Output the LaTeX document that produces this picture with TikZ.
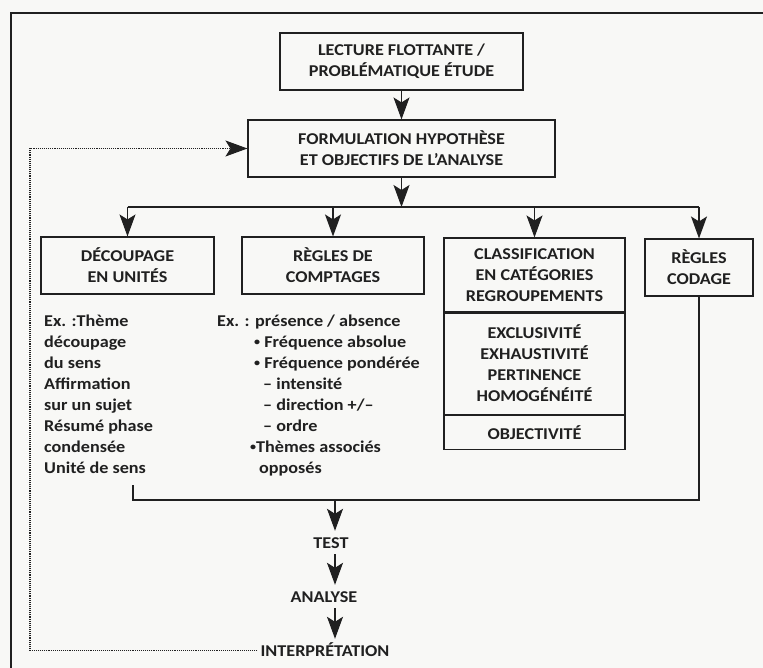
\documentclass[tikz,border=0pt]{standalone}
\usepackage{fontspec}
\setmainfont{Carlito}[FakeStretch=1.1]
\usetikzlibrary{arrows.meta}
\definecolor{bg}{RGB}{248,248,246}
\definecolor{ink}{RGB}{32,32,32}
\newcommand\lblfont{\fontsize{16.5}{21}\selectfont\bfseries}
\newcommand\smbul{\raisebox{0.12em}{\fontsize{11}{11}\selectfont•}}
\begin{document}
\begin{tikzpicture}[x=1pt,y=-1pt,
  box/.style={draw=ink, line width=1.1pt, align=center, inner sep=0pt, font=\lblfont, text=ink},
  txt/.style={align=left, inner sep=0pt, font=\lblfont, text=ink},
  lab/.style={inner sep=3pt, text height=11pt, text depth=0pt, font=\lblfont, text=ink},
  conn/.style={draw=ink, line width=1.2pt},
  arr/.style={draw=ink, line width=1.2pt, -{Stealth[length=22pt,width=16pt,inset=5pt]}},
  dots/.style={draw=ink, line width=1.2pt, dash pattern=on 1.1pt off 1pt}]
\useasboundingbox[fill=bg] (0,0) rectangle (763,668);
\draw[draw=ink, line width=1.4pt] (763,13) -- (11,13) -- (11,668);

\node[box, minimum width=243pt, minimum height=57pt] (top) at (401.5,61.5) {LECTURE FLOTTANTE /\\PROBLÉMATIQUE ÉTUDE};
\node[box, minimum width=307pt, minimum height=57pt] (form) at (401.5,148.5) {FORMULATION HYPOTHÈSE\\ET OBJECTIFS DE L’ANALYSE};

\node[box, minimum width=173pt, minimum height=57pt] (dec) at (127.5,265.5) {DÉCOUPAGE\\EN UNITÉS};
\node[box, minimum width=182pt, minimum height=57pt] (comp) at (333,265.5) {RÈGLES DE\\COMPTAGES};
\node[box, minimum width=181pt, minimum height=74pt] (cl1) at (534.5,275) {CLASSIFICATION\\EN CATÉGORIES\\REGROUPEMENTS};
\node[box, minimum width=181pt, minimum height=101pt, anchor=north] (cl2) at (cl1.south) {EXCLUSIVITÉ\\EXHAUSTIVITÉ\\PERTINENCE\\HOMOGÉNÉITÉ};
\node[box, minimum width=181pt, minimum height=34pt, anchor=north] (cl3) at (cl2.south) {OBJECTIVITÉ};
\node[box, minimum width=108pt, minimum height=57pt] (cod) at (699,267.5) {RÈGLES\\CODAGE};

\node[txt, anchor=north west] (exl) at (44,315) {Ex. :Thème\\découpage\\du sens\\Affirmation\\sur un sujet\\Résumé phase\\condensée\\Unité de sens};
\node[txt, anchor=north west] (exm) at (217,315) {Ex. : présence / absence\\\hspace*{37pt}\smbul{} Fréquence absolue\\\hspace*{37pt}\smbul{} Fréquence pondérée\\\hspace*{46pt}– intensité\\\hspace*{46pt}– direction +/–\\\hspace*{46pt}– ordre\\\hspace*{33pt}\smbul Thèmes associés\\\hspace*{42pt}opposés};

\node[lab] (test) at (331,542.5) {TEST};
\node[lab] (ana) at (324,596.5) {ANALYSE};
\node[lab] (int) at (325,650.5) {INTERPRÉTATION};

\coordinate (j) at (401.5,207);
\coordinate (ax) at (335,0);
\draw[arr] (top) -- (form);
\draw[arr] (form.south) -- (j);
\draw[conn] (dec.north |- j) -- (cod.north |- j);
\draw[arr] (dec.north |- j) -- (dec.north);
\draw[arr] (comp.north |- j) -- (comp.north);
\draw[arr] (cl1.north |- j) -- (cl1.north);
\draw[arr] (cod.north |- j) -- (cod.north);

\coordinate (b0) at (133,485);
\coordinate (b1) at (133,500);
\draw[conn] (b0) -- (b1) -| (cod.south);
\draw[arr, shorten >=3pt] (ax |- b1) -- (ax |- test.north);
\draw[arr, shorten <=3pt, shorten >=3pt] (ax |- test.south) -- (ax |- ana.north);
\draw[arr, shorten <=3pt, shorten >=3pt] (ax |- ana.south) -- (ax |- int.north);

\coordinate (loop) at (30,400);
\draw[dots, -{Stealth[length=22pt,width=16pt,inset=5pt]}] (int.west) -| (loop) |- (form.west);
\end{tikzpicture}
\end{document}
